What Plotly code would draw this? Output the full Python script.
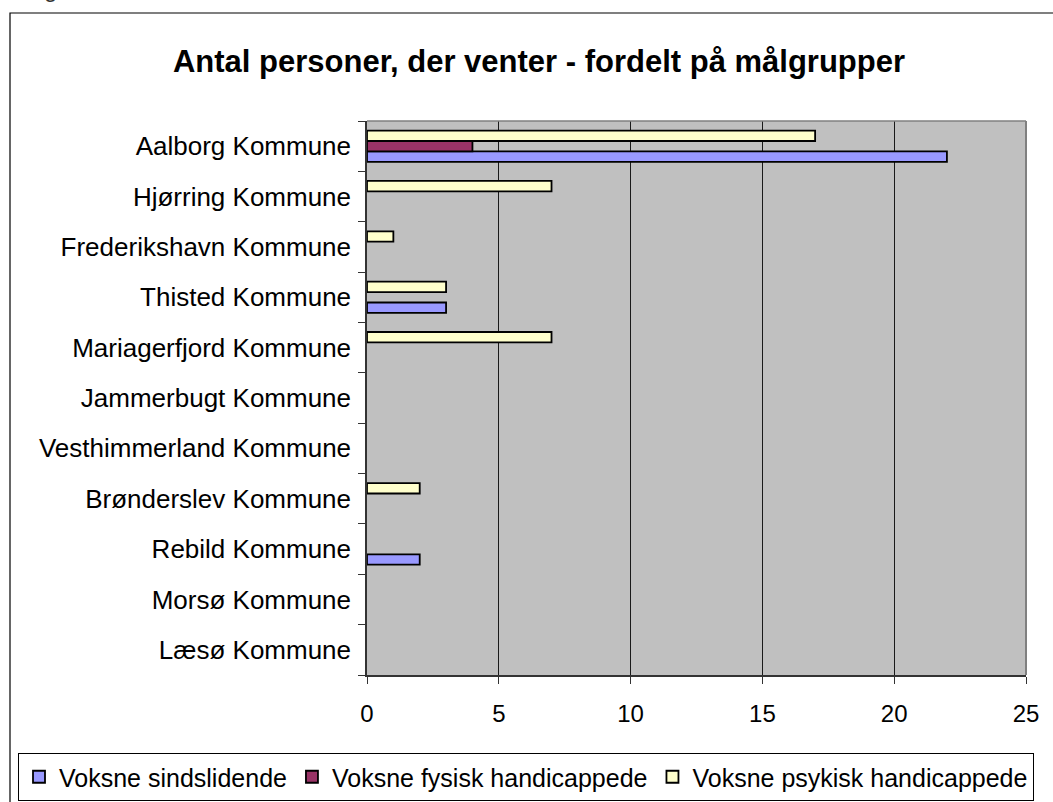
import plotly.graph_objects as go

categories = ["Aalborg Kommune", "Hjørring Kommune", "Frederikshavn Kommune", "Thisted Kommune",
              "Mariagerfjord Kommune", "Jammerbugt Kommune", "Vesthimmerland Kommune",
              "Brønderslev Kommune", "Rebild Kommune", "Morsø Kommune", "Læsø Kommune"]
sindslidende = [22, 0, 0, 3, 0, 0, 0, 0, 2, 0, 0]
fysisk = [4, 0, 0, 0, 0, 0, 0, 0, 0, 0, 0]
psykisk = [17, 7, 1, 3, 7, 0, 0, 2, 0, 0, 0]
series_names = ["Voksne sindslidende", "Voksne fysisk handicappede", "Voksne psykisk handicappede"]
series_colors = ["#9999FF", "#993366", "#FFFFCC"]
x_ticks = [0, 5, 10, 15, 20, 25]

W, H = 1053, 802
L, R, T, B = 367, 27, 121, 127
pw, ph = W - L - R, H - T - B

def px(x):
    return (x - L) / pw

def py(y):
    return (H - B - y) / ph

FONT = "Liberation Sans, Arial, sans-serif"

fig = go.Figure()
for name, vals, col in zip(series_names, [sindslidende, fysisk, psykisk], series_colors):
    fig.add_trace(go.Bar(
        y=categories, x=vals, name=name, orientation="h",
        marker=dict(color=col, line=dict(color="#000000", width=[1.8 if v else 0 for v in vals])),
    ))

fig.update_layout(
    width=W, height=H,
    margin=dict(l=L, r=R, t=T, b=B, autoexpand=False),
    paper_bgcolor="white",
    plot_bgcolor="#C0C0C0",
    barmode="group",
    bargap=0.38,
    bargroupgap=0,
    font=dict(family=FONT, color="black", size=25),
    title=dict(text="<b>Antal personer, der venter - fordelt på målgrupper</b>",
               x=539 / W, xanchor="center", y=1 - 61 / H, yanchor="middle",
               font=dict(size=31, color="black")),
    xaxis=dict(range=[0, 25], tickvals=x_ticks, showgrid=True, gridcolor="#1a1a1a", gridwidth=1,
               zeroline=False, showline=True, linecolor="#333333", linewidth=1.5, mirror=False,
               ticks="outside", ticklen=7, tickcolor="#333333", tickfont=dict(size=24),
               ticklabelstandoff=9, automargin=False),
    yaxis=dict(categoryorder="array", categoryarray=categories[::-1],
               showline=True, linecolor="#333333", linewidth=1.5,
               ticks="outside", ticklen=7, tickcolor="#333333", tickson="boundaries",
               tickfont=dict(size=26), ticklabelstandoff=9, showgrid=False, automargin=False),
    showlegend=True,
    legend=dict(orientation="h", x=px(18), xanchor="left", y=py(753), yanchor="top",
                bordercolor="#000000", borderwidth=1, bgcolor="white",
                font=dict(size=25), traceorder="normal", itemwidth=30,
                tracegroupgap=0),
    shapes=[
        dict(type="rect", xref="paper", yref="paper", x0=px(10), x1=px(1060), y0=py(808), y1=py(13),
             line=dict(color="black", width=1.2), fillcolor="rgba(0,0,0,0)", layer="below"),
        dict(type="line", xref="paper", yref="paper", x0=0, x1=1, y0=1, y1=1,
             line=dict(color="#808080", width=1.5)),
        dict(type="line", xref="paper", yref="paper", x0=1, x1=1, y0=0, y1=1,
             line=dict(color="#808080", width=2)),
    ],
    annotations=[dict(text="g", xref="paper", yref="paper", x=px(42), y=py(-11), xanchor="left",
                      yanchor="middle", showarrow=False, font=dict(size=24, color="#333"))],
)

fig.write_html("out.html", config={"displayModeBar": False},
               post_script="document.body.style.margin='0px';document.body.style.overflow='hidden';")
